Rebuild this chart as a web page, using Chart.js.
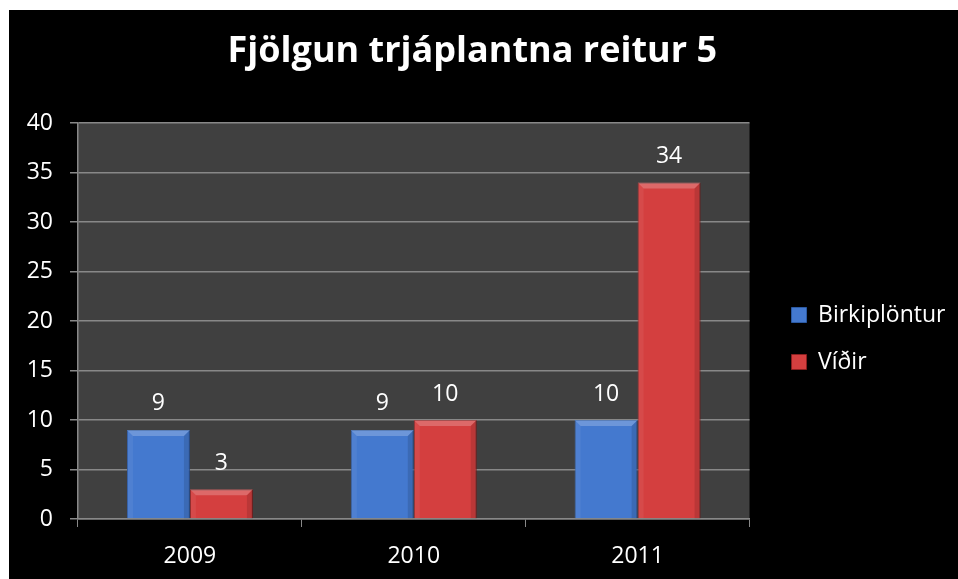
<!DOCTYPE html>
<html>
<head>
<meta charset="utf-8">
<script src="https://cdn.jsdelivr.net/npm/chart.js@4.4.1/dist/chart.umd.min.js"></script>
<style>
  html, body { margin: 0; padding: 0; background: #ffffff; }
  #wrap { position: absolute; left: 9px; top: 10px; width: 949px; height: 569px; background: #000000; overflow: hidden; }
  #inner { position: absolute; left: -20px; top: 0; width: 969px; height: 569px; }
</style>
</head>
<body>
<div id="wrap"><div id="inner"><canvas id="barChart"></canvas></div></div>
<script>
 // chart data
 const years = ["2009", "2010", "2011"];
 const birkiValues = [9, 9, 10];
 const vidirValues = [3, 10, 34];
 const seriesNames = ["Birkiplöntur", "Víðir"];
 const yTicks = [0, 5, 10, 15, 20, 25, 30, 35, 40];

 const fontFamily = "'Open Sans', 'DejaVu Sans', sans-serif";

 // dark grey plot background
 const plotBackground = {
     id: "plotBackground",
     beforeDraw(chart) {
         const a = chart.chartArea;
         const ctx = chart.ctx;
         ctx.save();
         ctx.fillStyle = "#404040";
         ctx.fillRect(a.left, a.top, a.right - a.left, a.bottom - a.top);
         ctx.restore();
     }
 };

 // bevel look on the bars + value labels above them
 const barExtras = {
     id: "barExtras",
     afterDatasetsDraw(chart) {
         const ctx = chart.ctx;
         ctx.save();
         chart.data.datasets.forEach((ds, i) => {
             chart.getDatasetMeta(i).data.forEach((bar, j) => {
                 const w = bar.width;
                 const l = bar.x - w / 2, r = bar.x + w / 2;
                 const t = bar.y, b = bar.base;
                 const bev = Math.min(6, (b - t) / 2);
                 // top highlight
                 ctx.fillStyle = "rgba(255,255,255,0.22)";
                 ctx.beginPath();
                 ctx.moveTo(l, t); ctx.lineTo(r, t); ctx.lineTo(r - bev, t + bev); ctx.lineTo(l + bev, t + bev);
                 ctx.closePath(); ctx.fill();
                 // side shades
                 ctx.fillStyle = "rgba(0,0,0,0.12)";
                 ctx.beginPath();
                 ctx.moveTo(r, t); ctx.lineTo(r, b); ctx.lineTo(r - bev, b); ctx.lineTo(r - bev, t + bev);
                 ctx.closePath(); ctx.fill();
                 ctx.fillStyle = "rgba(255,255,255,0.06)";
                 ctx.beginPath();
                 ctx.moveTo(l, t); ctx.lineTo(l, b); ctx.lineTo(l + bev, b); ctx.lineTo(l + bev, t + bev);
                 ctx.closePath(); ctx.fill();
             });
         });
         ctx.fillStyle = "#ffffff";
         ctx.font = "23px " + fontFamily;
         ctx.textAlign = "center";
         ctx.textBaseline = "middle";
         chart.data.datasets.forEach((ds, i) => {
             chart.getDatasetMeta(i).data.forEach((bar, j) => {
                 ctx.fillText(String(ds.data[j]), bar.x, bar.y - 26);
             });
         });
         ctx.restore();
     }
 };

 const ctx = document.getElementById("barChart").getContext("2d");
 const barChartInstance = new Chart(ctx, {
     type: "bar",
     data: {
         labels: years,
         datasets: [
             {
                 label: seriesNames[0],
                 data: birkiValues,
                 backgroundColor: "#4479cf",
                 borderColor: "#2c5aa3",
                 borderWidth: 1,
             },
             {
                 label: seriesNames[1],
                 data: vidirValues,
                 backgroundColor: "#d43f3f",
                 borderColor: "#8a1f1f",
                 borderWidth: 1,
             }
         ]
     },
     options: {
         responsive: true,
         maintainAspectRatio: false,
         animation: false,
         layout: { padding: { left: 0, right: 2.5, top: 0, bottom: 0 } },
         datasets: {
             bar: { categoryPercentage: 0.5625, barPercentage: 1.0 }
         },
         scales: {
             x: {
                 grid: { offset: true, drawOnChartArea: false, color: "#888888", tickLength: 8 },
                 border: { color: "#888888", width: 1.5 },
                 ticks: { color: "#ffffff", font: { family: fontFamily, size: 23 }, padding: 16 },
                 afterFit(scale) { scale.height = 60; }
             },
             y: {
                 min: 0,
                 max: 40,
                 afterBuildTicks(scale) { scale.ticks = yTicks.map(v => ({ value: v })); },
                 grid: { color: "#888888", lineWidth: 1.5, tickLength: 8 },
                 border: { color: "#888888", width: 1.5 },
                 ticks: { color: "#ffffff", font: { family: fontFamily, size: 23 }, padding: 17 },
                 afterFit(scale) { scale.width = 89; }
             },
             spacer: {
                 type: "linear",
                 position: "right",
                 grid: { display: false },
                 border: { display: false },
                 ticks: { display: false },
                 afterFit(scale) { scale.width = 18; }
             }
         },
         plugins: {
             title: {
                 display: true,
                 text: "Fjölgun trjáplantna reitur 5",
                 color: "#ffffff",
                 font: { family: fontFamily, size: 36, weight: "bold", lineHeight: 1.2 },
                 padding: { top: 20, bottom: 49.8 }
             },
             legend: {
                 display: true,
                 position: "right",
                 align: "start",
                 fullSize: false,
                 maxWidth: 400,
                 title: { display: true, text: "", font: { size: 12, lineHeight: 1.2 }, padding: { top: 71, bottom: 71.1 } },
                 labels: {
                     color: "#ffffff",
                     font: { family: fontFamily, size: 23 },
                     boxWidth: 15,
                     boxHeight: 15,
                     padding: 24
                 }
             },
             tooltip: { enabled: false }
         }
     },
     plugins: [plotBackground, barExtras]
 });
</script>
</body>
</html>
